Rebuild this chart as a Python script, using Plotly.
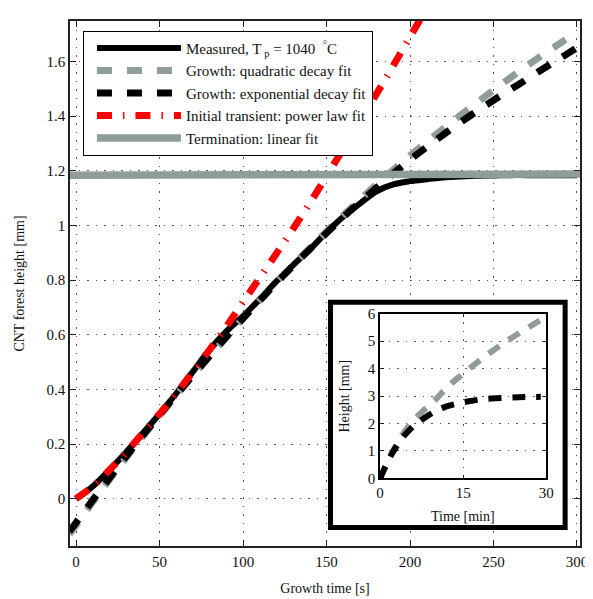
import plotly.graph_objects as go

# ---------------- data ----------------
# main plot: growth time [s] vs CNT forest height [mm]
t_measured = [0, 10, 20, 30, 40, 50, 60, 70, 80, 90, 100, 110, 120, 130, 140, 150,
              160, 170, 180, 190, 200, 210, 220, 230, 240, 250, 260, 270, 280, 290, 300]
h_measured = [0.0, 0.045, 0.105, 0.17, 0.24, 0.31, 0.385, 0.465, 0.545, 0.612, 0.668,
              0.73, 0.795, 0.855, 0.912, 0.975, 1.032, 1.08, 1.125, 1.15, 1.162, 1.169,
              1.175, 1.179, 1.182, 1.183, 1.184, 1.184, 1.184, 1.184, 1.184]

t_fit = [-4, 0, 10, 20, 30, 40, 50, 60, 70, 80, 90, 100, 110, 120, 130, 140, 150,
         160, 170, 180, 190, 200, 210, 220, 230, 240, 250, 260, 270, 280, 290, 300]
h_quadratic = [-0.13, -0.097, -0.012, 0.07, 0.15, 0.228, 0.304, 0.378, 0.45, 0.521,
               0.591, 0.66, 0.726, 0.792, 0.855, 0.917, 0.978, 1.037, 1.094, 1.15,
               1.203, 1.255, 1.305, 1.354, 1.402, 1.449, 1.495, 1.54, 1.584, 1.626,
               1.667, 1.707]
h_exponential = [-0.12, -0.088, -0.005, 0.075, 0.155, 0.232, 0.307, 0.38, 0.452, 0.522,
                 0.592, 0.66, 0.725, 0.79, 0.852, 0.913, 0.972, 1.03, 1.085, 1.138,
                 1.19, 1.24, 1.287, 1.332, 1.376, 1.418, 1.458, 1.497, 1.535, 1.574,
                 1.612, 1.65]

t_power = [0, 10, 20, 30, 40, 50, 60, 70, 80, 90, 100, 110, 120, 130, 140, 150, 160,
           170, 180, 190, 200, 210]
h_power = [0.0, 0.045, 0.105, 0.17, 0.24, 0.31, 0.385, 0.465, 0.545, 0.63, 0.72, 0.808,
           0.897, 0.988, 1.082, 1.18, 1.28, 1.38, 1.482, 1.585, 1.69, 1.795]

t_termination = [-5, 305]
h_termination = [1.184, 1.188]

# inset: time [min] vs height [mm]
t_inset_quad = [0, 1, 2, 3, 4, 5, 6, 8, 10, 12, 14, 16, 18, 20, 22, 24, 26, 28, 29]
h_inset_quad = [0.0, 0.45, 0.87, 1.25, 1.58, 1.86, 2.1, 2.5, 2.87, 3.3, 3.65, 3.98,
                4.3, 4.6, 4.88, 5.15, 5.4, 5.65, 5.77]
t_inset_exp = [0, 1, 2, 3, 4, 5, 6, 7, 8, 10, 12, 14, 16, 18, 20, 23, 26, 29]
h_inset_exp = [0.0, 0.45, 0.85, 1.18, 1.47, 1.7, 1.9, 2.06, 2.2, 2.45, 2.62, 2.73,
               2.81, 2.87, 2.91, 2.94, 2.96, 2.97]

x_ticks = [0, 50, 100, 150, 200, 250, 300]
y_ticks = [0, 0.2, 0.4, 0.6, 0.8, 1.0, 1.2, 1.4, 1.6]
y_ticktext = ["0", "0.2", "0.4", "0.6", "0.8", "1", "1.2", "1.4", "1.6"]
inset_x_ticks = [0, 15, 30]
inset_y_ticks = [0, 1, 2, 3, 4, 5, 6]

names = ["Measured, T<sub> p</sub> = 1040  <sup>°</sup>C",
         "Growth: quadratic decay fit",
         "Growth: exponential decay fit",
         "Initial transient: power law fit",
         "Termination: linear fit"]

# ---------------- styling ----------------
GRAY = "#8f9c99"
RED = "#ff0000"
SERIF = "Liberation Serif, Times New Roman, serif"

fig = go.Figure()
fig.add_trace(go.Scatter(x=t_measured, y=h_measured, mode="lines", name=names[0],
                         line=dict(color="black", width=6, shape="spline")))
fig.add_trace(go.Scatter(x=t_fit, y=h_quadratic, mode="lines", name=names[1],
                         line=dict(color=GRAY, width=7, dash="15px,15px", shape="spline")))
fig.add_trace(go.Scatter(x=t_fit, y=h_exponential, mode="lines", name=names[2],
                         line=dict(color="black", width=7, dash="15px,15px", shape="spline")))
fig.add_trace(go.Scatter(x=t_power, y=h_power, mode="lines", name=names[3],
                         line=dict(color=RED, width=7, dash="15px,11px,1.5px,11px",
                                   shape="spline")))
fig.add_trace(go.Scatter(x=t_termination, y=h_termination, mode="lines", name=names[4],
                         line=dict(color=GRAY, width=7.5)))

# inset traces
fig.add_trace(go.Scatter(x=t_inset_quad, y=h_inset_quad, mode="lines", showlegend=False,
                         xaxis="x2", yaxis="y2",
                         line=dict(color=GRAY, width=6, dash="13px,11px", shape="spline")))
fig.add_trace(go.Scatter(x=t_inset_exp, y=h_inset_exp, mode="lines", showlegend=False,
                         xaxis="x2", yaxis="y2",
                         line=dict(color="black", width=6, dash="13px,11px", shape="spline")))

axis_common = dict(showline=True, linecolor="#222", linewidth=1.5, mirror="ticks",
                   ticks="inside", ticklen=6, tickcolor="#222", tickwidth=1,
                   showgrid=True, gridcolor="#555", griddash="1.5px,7px", gridwidth=1.2,
                   zeroline=False,
                   tickfont=dict(family=SERIF, size=15, color="#111"))

title_font = dict(family=SERIF, size=14, color="#111")

# the page body has an 8px margin, so the figure is 8px smaller than the window
fig.update_layout(
    width=585, height=591,
    margin=dict(l=62, r=12, t=5, b=50),
    paper_bgcolor="white", plot_bgcolor="white",
    xaxis=dict(axis_common, range=[-3.6, 301.8], tickvals=x_ticks, domain=[0, 1],
               ticklabelstandoff=1,
               title=dict(text="Growth time [s]", font=title_font, standoff=14)),
    yaxis=dict(axis_common, range=[-0.173, 1.748], tickvals=y_ticks, ticktext=y_ticktext,
               domain=[0, 1],
               title=dict(text="CNT forest height [mm]", font=title_font, standoff=19)),
    xaxis2=dict(axis_common, range=[0, 30], tickvals=inset_x_ticks, domain=[0.608, 0.934],
                anchor="y2", linecolor="black", ticklen=4),
    yaxis2=dict(axis_common, range=[0, 6], tickvals=inset_y_ticks, domain=[0.1287, 0.4427],
                anchor="x2", linecolor="black", ticklen=4),
    legend=dict(x=0.0254, y=0.9813, xanchor="left", yanchor="top",
                bgcolor="white", bordercolor="black", borderwidth=1,
                font=dict(family=SERIF, size=15, color="#111"),
                itemwidth=84, tracegroupgap=0, indentation=8),
    shapes=[dict(type="rect", xref="x", yref="y",
                 x0=152.4, x1=292.9, y0=-0.105, y1=0.719,
                 line=dict(color="black", width=5), fillcolor="white", layer="between")],
    annotations=[
        dict(text="Time [min]", xref="paper", yref="paper", x=0.771, y=0.056,
             xanchor="center", yanchor="middle", showarrow=False, font=title_font),
        dict(text="Height [mm]", xref="paper", yref="paper", x=0.538, y=0.2854,
             xanchor="center", yanchor="middle", showarrow=False, textangle=-90,
             font=title_font),
    ],
)

fig.write_html("out.html")
